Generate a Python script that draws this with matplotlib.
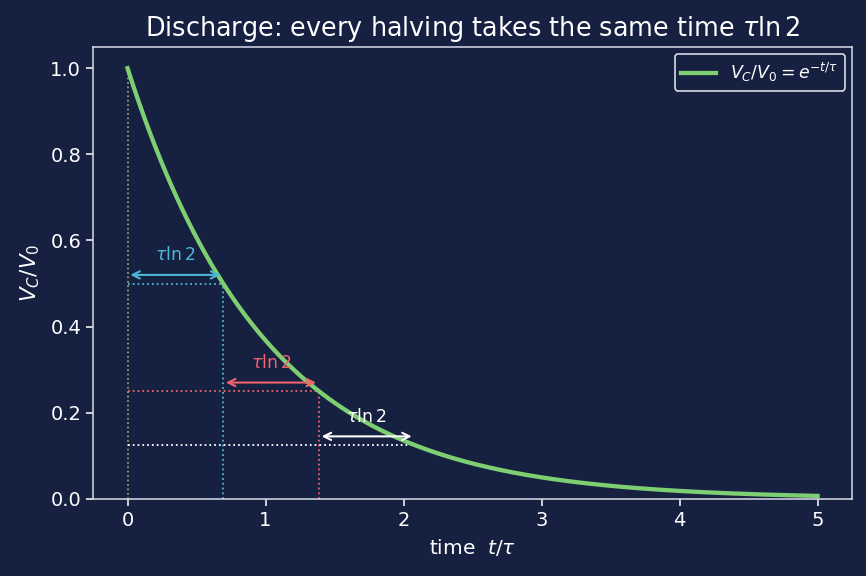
import numpy as np
import matplotlib
matplotlib.use("Agg")
import matplotlib.pyplot as plt

t_max = 5.0
n_halvings = 3
step_colors = ["#4db8d6", "#f0626e", "#ffffff"]
label_text = r"$\tau \ln 2$"
curve_color = "#7dcf72"
bg = "#162040"

t = np.linspace(0, t_max, 500)
v = np.exp(-t)
ln2 = np.log(2)

fig = plt.figure(figsize=(8.66, 5.76), dpi=100, facecolor=bg)
ax = fig.add_axes([0.1074, 0.134, 0.8765, 0.785])
ax.set_facecolor(bg)

ax.plot(t, v, color=curve_color, lw=3.1, label=r"$V_C/V_0 = e^{-t/\tau}$", zorder=3)

# vertical at t=0
ax.plot([0, 0], [0, 1], ls=":", color="#c9cf8f", lw=1.2, alpha=0.8)
for k in range(n_halvings):
    c = step_colors[k]
    t0 = k * ln2
    t1 = (k + 1) * ln2
    y1 = np.exp(-t1)
    ax.plot([0, t1], [y1, y1], ls=":", color=c, lw=1.3)
    if k < 2:
        ax.plot([t1, t1], [0, y1], ls=":", color=c, lw=1.3)
    ya = y1 + 0.02
    ax.annotate("", xy=(t1, ya), xytext=(t0, ya),
                arrowprops=dict(arrowstyle="<->", color=c, lw=1.5, mutation_scale=13))
    ax.text((t0 + t1) / 2, ya + 0.025, label_text, color=c, fontsize=12.5,
            ha="center", va="bottom")

ax.set_xlim(-0.25, 5.25)
ax.set_ylim(0, 1.05)
ax.set_xticks([0, 1, 2, 3, 4, 5])
ax.set_yticks([0, 0.2, 0.4, 0.6, 0.8, 1.0])
ax.tick_params(colors="white", labelsize=14, length=5, width=1.1)
for s in ax.spines.values():
    s.set_color("#d8dce8")
    s.set_linewidth(1.1)
ax.set_xlabel(r"time  $t/\tau$", color="white", fontsize=14.5, labelpad=5)
ax.set_ylabel(r"$V_C/V_0$", color="white", fontsize=15.5, labelpad=6)
ax.set_title(r"Discharge: every halving takes the same time $\tau \ln 2$", color="white",
             fontsize=18.4, pad=8)
leg = ax.legend(loc="upper right", facecolor=bg, edgecolor="#d8dce8", fontsize=12.5,
                labelcolor="white", borderaxespad=0.4)
leg.get_frame().set_alpha(1)
leg.get_frame().set_linewidth(1.2)

fig.savefig("out.png", dpi=100, facecolor=bg)
